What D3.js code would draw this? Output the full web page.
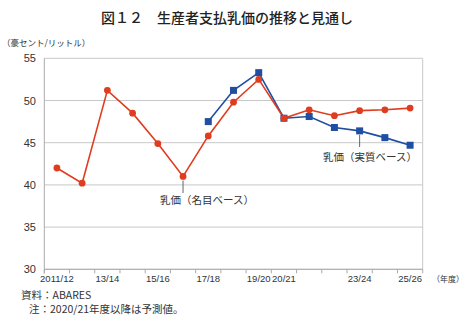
<!DOCTYPE html>
<html><head><meta charset="utf-8">
<script src="https://cdn.jsdelivr.net/npm/d3@7"></script>
<style>body{margin:0;background:#fff}svg{display:block}text{font-family:"Liberation Sans","Noto Sans CJK JP",sans-serif;fill:#333}</style>
</head><body>
<script>
const categories = ["2011/12","12/13","13/14","14/15","15/16","16/17","17/18","18/19","19/20","20/21","21/22","22/23","23/24","24/25","25/26"];
const tickLabels = ["2011/12","13/14","15/16","17/18","19/20","20/21","23/24","25/26"];
const nominal = [42.0,40.2,51.2,48.5,44.9,41.0,45.8,49.8,52.5,47.9,48.9,48.2,48.8,48.9,49.1];
const real = [null,null,null,null,null,null,47.5,51.2,53.3,47.9,48.1,46.8,46.4,45.6,44.7];
const yTicks = [30,35,40,45,50,55];

const W=467,H=322;
const m={l:44.3,r:422.7,t:58.3,b:269.3};
const svg=d3.select("body").append("svg").attr("width",W).attr("height",H);
const x=d3.scaleBand().domain(categories).range([m.l,m.r]);
const y=d3.scaleLinear().domain([30,55]).range([m.b,m.t]);
const cx=d=>x(d)+x.bandwidth()/2;

svg.append("text").attr("x",227).attr("y",23).attr("text-anchor","middle")
  .style("font-size","14px").style("font-family","'Noto Sans CJK JP',sans-serif").style("font-weight","500").style("fill","#222")
  .text("図１２　生産者支払乳価の推移と見通し");
svg.append("text").attr("x",2).attr("y",46).style("font-size","8.5px").style("font-family","'Noto Sans CJK JP',sans-serif")
  .text("（豪セント/リットル）");

// grid
svg.append("g").selectAll("line").data(yTicks).join("line")
  .attr("x1",m.l).attr("x2",m.r).attr("y1",d=>y(d)).attr("y2",d=>y(d))
  .attr("stroke","#c8c8c8").attr("stroke-width",1);
svg.append("line").attr("x1",m.r).attr("x2",m.r).attr("y1",m.t).attr("y2",m.b).attr("stroke","#c8c8c8");
svg.append("line").attr("x1",m.l).attr("x2",m.l).attr("y1",m.t).attr("y2",m.b+4).attr("stroke","#aaa");
svg.append("line").attr("x1",m.l).attr("x2",m.r).attr("y1",m.b).attr("y2",m.b).attr("stroke","#aaa");

// y labels
svg.append("g").selectAll("text").data(yTicks).join("text")
  .attr("x",36).attr("y",d=>y(d)+4).attr("text-anchor","end").style("font-size","11px").text(d=>d);

// x ticks at band boundaries
const bounds=categories.map(c=>x(c)).concat([m.r]);
svg.append("g").selectAll("line").data(bounds).join("line")
  .attr("x1",d=>d).attr("x2",d=>d).attr("y1",m.b).attr("y2",m.b+4).attr("stroke","#aaa");
svg.append("g").selectAll("text").data(tickLabels).join("text")
  .attr("x",d=>cx(d)).attr("y",282).attr("text-anchor","middle").style("font-size","9.5px").text(d=>d);
svg.append("text").attr("x",432).attr("y",282).style("font-size","8px").style("font-family","'Noto Sans CJK JP',sans-serif").text("（年度）");

const red="#e03c1f", blue="#1f4ea3";
const line=d3.line().defined(d=>d.v!=null).x(d=>cx(d.c)).y(d=>y(d.v));
const nd=categories.map((c,i)=>({c,v:nominal[i]}));
const rd=categories.map((c,i)=>({c,v:real[i]}));

// leader lines
svg.append("line").attr("x1",cx("16/17")).attr("x2",cx("16/17")).attr("y1",y(41.0)+4).attr("y2",193).attr("stroke","#666");
svg.append("line").attr("x1",cx("23/24")).attr("x2",cx("23/24")).attr("y1",y(46.4)+4).attr("y2",147).attr("stroke","#666");

svg.append("path").datum(rd).attr("d",line).attr("fill","none").attr("stroke",blue).attr("stroke-width",1.6);
svg.append("path").datum(nd).attr("d",line).attr("fill","none").attr("stroke",red).attr("stroke-width",1.6);
svg.append("g").selectAll("rect").data(rd.filter(d=>d.v!=null)).join("rect")
  .attr("x",d=>cx(d.c)-3.5).attr("y",d=>y(d.v)-3.5).attr("width",7).attr("height",7).attr("fill",blue);
svg.append("g").selectAll("circle").data(nd).join("circle")
  .attr("cx",d=>cx(d.c)).attr("cy",d=>y(d.v)).attr("r",3.4).attr("fill",red);

svg.append("text").attr("x",160).attr("y",204).style("font-size","10.5px").style("font-family","'Noto Sans CJK JP',sans-serif").text("乳価（名目ベース）");
svg.append("text").attr("x",323).attr("y",161).style("font-size","10.5px").style("font-family","'Noto Sans CJK JP',sans-serif").text("乳価（実質ベース）");

svg.append("text").attr("x",21).attr("y",299).style("font-size","10.5px").style("font-family","'Noto Sans CJK JP',sans-serif").text("資料：ABARES");
svg.append("text").attr("x",29).attr("y",313).style("font-size","10.5px").style("font-family","'Noto Sans CJK JP',sans-serif").text("注：2020/21年度以降は予測値。");
</script>
</body></html>
